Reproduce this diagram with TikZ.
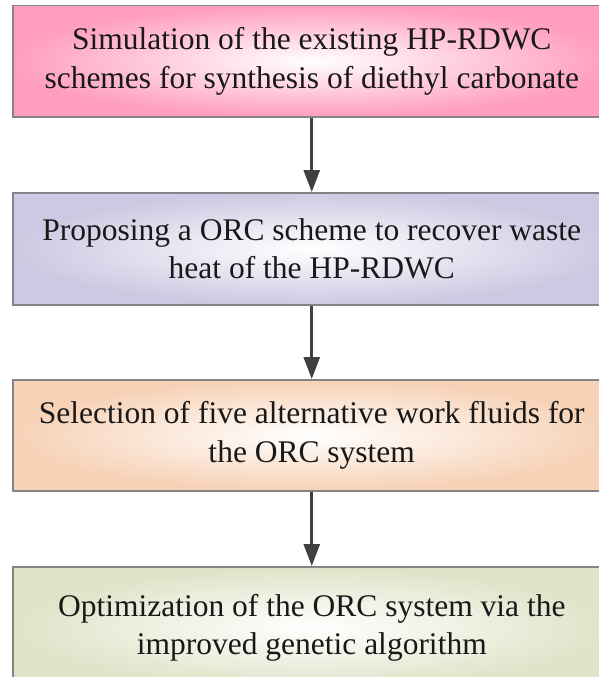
\documentclass[tikz,border=0pt]{standalone}
\usepackage{fontspec}
\setmainfont{Liberation Serif}
\usetikzlibrary{arrows.meta}
\definecolor{pinkc}{RGB}{255,158,192}
\definecolor{lavc}{RGB}{206,200,226}
\definecolor{peachc}{RGB}{247,210,182}
\definecolor{greenc}{RGB}{222,228,200}
\definecolor{edgec}{RGB}{135,130,135}
\definecolor{arrc}{RGB}{64,64,64}
\tikzset{
  stagebox/.style={draw=edgec, line width=1.5pt, rectangle, shading=radial,
    inner color=white, minimum width=598pt, anchor=north west,
    align=center, font=\fontsize{31.5pt}{38.5pt}\selectfont, text=black!90, inner sep=0pt},
  flowarrow/.style={draw=arrc, line width=2.8pt, -{Triangle[width=16pt,length=22pt]}}
}
\begin{document}
\begin{tikzpicture}[x=1pt,y=-1pt]
\useasboundingbox (0,0) rectangle (598,677);
\node[stagebox, outer color=pinkc, minimum height=111pt] (a) at (12,5)
  {Simulation of the existing HP-RDWC\\schemes for synthesis of diethyl carbonate};
\node[stagebox, outer color=lavc, minimum height=112pt] (b) at (12,192)
  {Proposing a ORC scheme to recover waste\\heat of the HP-RDWC};
\node[stagebox, outer color=peachc, minimum height=111pt] (c) at (12,379)
  {Selection of five alternative work fluids for\\the ORC system};
\node[stagebox, outer color=greenc, minimum height=122pt] (d) at (12,566)
  {Optimization of the ORC system via the\\improved genetic algorithm};
\draw[flowarrow] (a.south) -- (b.north);
\draw[flowarrow] (b.south) -- (c.north);
\draw[flowarrow] (c.south) -- (d.north);
\end{tikzpicture}
\end{document}
